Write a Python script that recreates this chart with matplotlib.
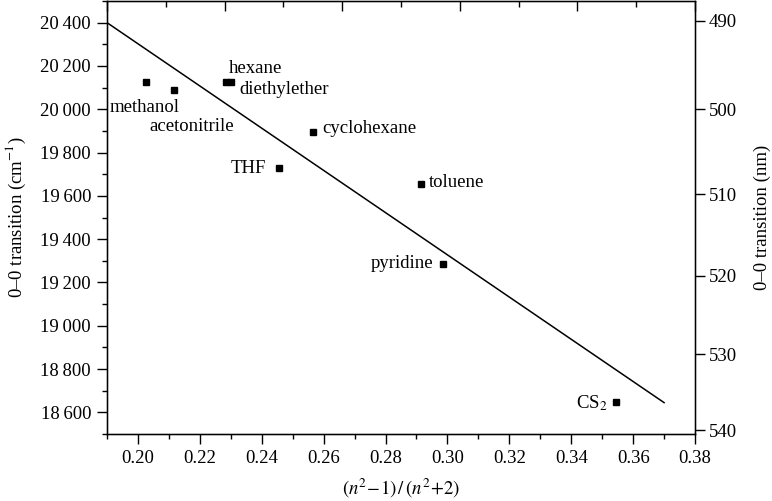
import numpy as np
import matplotlib
matplotlib.use("Agg")
import matplotlib.pyplot as plt
from matplotlib.ticker import FuncFormatter, MultipleLocator, FixedLocator

plt.rcParams['font.family'] = ['Liberation Serif', 'DejaVu Serif']
plt.rcParams['mathtext.fontset'] = 'stix'
plt.rcParams['font.size'] = 13.5

# solvent data: polarity function vs 0-0 transition energy
solvents = ['methanol', 'acetonitrile', 'hexane', 'diethylether', 'THF',
            'cyclohexane', 'toluene', 'pyridine', 'CS$_2$']
polarity = [0.2026, 0.2116, 0.2286, 0.2300, 0.2457, 0.2564, 0.2916, 0.2986, 0.3546]
transition = [20128, 20091, 20125, 20125, 19730, 19893, 19655, 19284, 18649]

# linear fit line
fit_x = [0.19, 0.37]
fit_slope = -9750.0
fit_intercept = 22252.5

# label offsets in pixels (dx, dy, ha)
label_offsets = {
    'methanol': (-1, -30, 'center'),
    'acetonitrile': (18, -41, 'center'),
    'hexane': (2, 9.5, 'left'),
    'diethylether': (9, -11.5, 'left'),
    'THF': (-13, -5.5, 'right'),
    'cyclohexane': (9.5, -1, 'left'),
    'toluene': (7, -3, 'left'),
    'pyridine': (-10, -4, 'right'),
    'CS$_2$': (-8.5, -6.5, 'right'),
}

nm_ticks = [490, 500, 510, 520, 530, 540]

fig = plt.figure(figsize=(7.72, 5.01), dpi=100)
ax = fig.add_axes([0.1386, 0.1337, 0.7617, 0.8643])

fx = np.array(fit_x)
ax.plot(fx, fit_slope * fx + fit_intercept, color='black', lw=1.1)
ax.plot(polarity, transition, 's', color='black', ms=5.0, mec='black')

for name, px, py in zip(solvents, polarity, transition):
    dx, dy, ha = label_offsets[name]
    ax.annotate(name, (px, py), xytext=(dx, dy), textcoords='offset pixels',
                ha=ha, va='baseline', fontsize=13.5)

ax.set_xlim(0.19, 0.38)
ax.set_ylim(18500, 20500)
ax.xaxis.set_major_locator(MultipleLocator(0.02))
ax.xaxis.set_minor_locator(MultipleLocator(0.01))
ax.yaxis.set_major_locator(MultipleLocator(200))
ax.yaxis.set_minor_locator(MultipleLocator(100))
ax.xaxis.set_major_formatter(FuncFormatter(lambda v, p: f"{v:.2f}"))
ax.yaxis.set_major_formatter(FuncFormatter(lambda v, p: f"{v:,.0f}".replace(',', '\u2009')))
ax.tick_params(which='major', direction='out', length=7, width=1.0, pad=4.5, labelsize=13.5)
ax.tick_params(which='minor', direction='out', length=3.5, width=1.0)
ax.tick_params(top=False, right=False, which='both')
for s in ax.spines.values():
    s.set_linewidth(1.0)

ax.set_xlabel('$(n^2\\!-\\!1)\\,/\\,(n^2\\!+\\!2)$', fontsize=13.5, labelpad=7)
ax.set_ylabel('0\u20130 transition (cm$^{-1}$)', fontsize=13.5, labelpad=9)

# right axis in nm
axr = ax.twinx()
axr.set_ylim(ax.get_ylim())
axr.yaxis.set_major_locator(FixedLocator([1e7 / v for v in nm_ticks]))
axr.set_yticklabels([str(v) for v in nm_ticks])
axr.tick_params(direction='out', length=7, width=1.0, pad=3, labelsize=13.5)
axr.set_ylabel('0\u20130 transition (nm)', fontsize=13.5, rotation=90, labelpad=12)

# top axis ticks (inward, no labels)
axt = ax.twiny()
axt.set_xlim(0.0, 10.0)
axt.xaxis.set_major_locator(MultipleLocator(2))
axt.xaxis.set_minor_locator(MultipleLocator(1))
axt.tick_params(which='major', direction='in', length=7, width=1.0, labeltop=False)
axt.tick_params(which='minor', direction='in', length=4, width=1.0)

fig.savefig('out.png', dpi=100)
